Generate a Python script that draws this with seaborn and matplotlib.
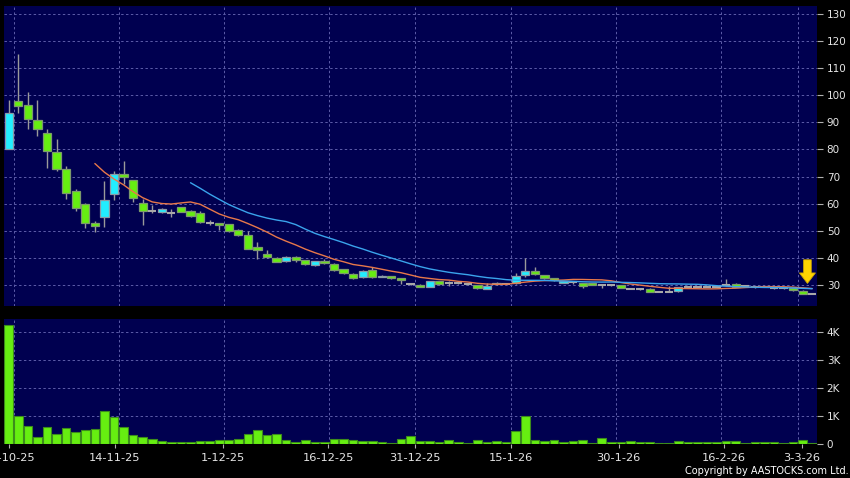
import numpy as np
import pandas as pd
import matplotlib
matplotlib.use("Agg")
import matplotlib.pyplot as plt
import seaborn as sns
from matplotlib.ticker import FixedLocator

# ---------------- data ----------------
opens = [80.3, 98.0, 96.5, 91.0, 86.2, 79.2, 72.9, 64.8, 60.0, 53.0,
         55.0, 63.5, 71.0, 68.8, 60.3, 57.3, 56.9, 56.7, 58.7, 57.3,
         56.5, 53.0, 52.8, 52.4, 50.2, 48.4, 44.2, 41.3, 40.1, 38.8,
         40.5, 39.1, 37.3, 38.8, 37.9, 35.8, 34.2, 32.9, 35.4, 32.9,
         33.3, 32.4, 30.4, 30.1, 29.3, 31.4, 30.7, 30.7, 30.2, 30.0,
         28.7, 30.2, 30.5, 30.9, 33.6, 35.3, 33.6, 32.4, 30.8, 31.1,
         30.7, 30.8, 29.9, 30.0, 30.0, 28.6, 28.4, 28.6, 27.5, 27.5,
         27.7, 29.2, 29.4, 29.3, 29.4, 30.0, 30.5, 29.7, 29.2, 29.4,
         28.9, 28.8, 28.9, 27.9, 26.7]
closes = [93.6, 96.1, 91.2, 87.7, 79.3, 72.9, 64.0, 58.5, 53.0, 51.9,
          61.5, 71.0, 69.8, 62.2, 57.4, 57.3, 58.0, 56.7, 57.0, 55.5,
          53.1, 53.0, 52.0, 49.8, 48.4, 43.3, 42.8, 40.2, 38.6, 40.4,
          39.4, 37.6, 38.8, 38.0, 35.7, 34.3, 32.7, 35.2, 32.9, 33.5,
          32.4, 31.9, 30.4, 29.4, 31.4, 30.3, 30.7, 30.7, 30.2, 28.8,
          29.7, 30.9, 30.5, 33.5, 35.3, 34.0, 32.5, 31.8, 31.3, 31.1,
          29.5, 30.0, 29.9, 30.0, 29.0, 28.6, 28.4, 27.5, 27.5, 27.5,
          29.1, 29.2, 29.4, 29.3, 29.4, 30.0, 29.4, 29.7, 29.2, 29.4,
          28.9, 28.8, 28.0, 26.8, 26.7]
highs = [98.1, 115.2, 101.1, 98.4, 87.7, 84.0, 74.0, 65.4, 60.2, 53.5,
         68.3, 71.9, 75.7, 68.8, 61.6, 59.6, 58.5, 57.9, 58.9, 57.8,
         57.3, 54.0, 53.0, 52.6, 50.6, 50.0, 45.9, 42.8, 40.3, 40.6,
         40.7, 39.3, 39.0, 39.5, 38.0, 36.0, 34.4, 35.4, 36.8, 33.6,
         33.5, 32.5, 30.7, 30.2, 31.6, 31.5, 31.5, 31.2, 30.7, 30.1,
         30.6, 31.0, 30.8, 34.6, 39.9, 36.7, 33.8, 32.6, 31.5, 31.3,
         30.8, 30.9, 30.1, 30.2, 30.1, 28.9, 28.6, 28.8, 27.7, 29.8,
         29.2, 29.4, 29.6, 29.5, 29.6, 32.3, 30.6, 29.9, 29.4, 29.6,
         29.1, 29.0, 29.0, 28.0, 26.8]
lows = [80.0, 93.4, 87.5, 85.0, 73.1, 72.0, 61.8, 57.3, 51.1, 49.6,
        51.5, 61.2, 67.4, 60.6, 52.0, 56.7, 56.5, 55.1, 56.8, 55.0,
        53.0, 52.0, 50.3, 49.6, 48.2, 43.1, 39.7, 40.0, 38.4, 38.5,
        38.6, 37.4, 37.1, 37.9, 35.1, 34.1, 32.2, 32.4, 32.7, 32.8,
        32.2, 30.3, 30.0, 29.2, 29.1, 30.1, 29.7, 30.2, 29.9, 28.6,
        28.5, 30.0, 30.2, 30.5, 33.0, 33.8, 32.3, 31.6, 30.6, 30.5,
        29.0, 29.9, 29.0, 29.6, 28.8, 28.4, 28.2, 27.3, 27.3, 27.3,
        27.5, 29.0, 29.2, 29.1, 29.2, 29.8, 29.2, 29.5, 29.0, 29.2,
        28.7, 28.6, 27.8, 26.6, 26.5]
volumes_k = [4.24, 1.0, 0.64, 0.24, 0.58, 0.36, 0.56, 0.40, 0.49, 0.52,
             1.17, 0.96, 0.61, 0.31, 0.24, 0.155, 0.08, 0.06, 0.05, 0.07,
             0.08, 0.08, 0.12, 0.12, 0.155, 0.33, 0.49, 0.30, 0.35, 0.13,
             0.07, 0.13, 0.06, 0.07, 0.155, 0.155, 0.13, 0.095, 0.11, 0.05,
             0.02, 0.155, 0.27, 0.11, 0.095, 0.05, 0.12, 0.06, 0.035, 0.13,
             0.06, 0.08, 0.06, 0.45, 0.99, 0.13, 0.095, 0.13, 0.07, 0.11,
             0.13, 0.035, 0.19, 0.05, 0.05, 0.095, 0.07, 0.05, 0.035, 0.02,
             0.095, 0.05, 0.05, 0.05, 0.05, 0.08, 0.08, 0.02, 0.07, 0.06,
             0.05, 0.02, 0.06, 0.12, 0.02]
date_labels = ['30-10-25', '14-11-25', '1-12-25', '16-12-25', '31-12-25',
               '15-1-26', '30-1-26', '16-2-26', '3-3-26']
price_ticks = [30, 40, 50, 60, 70, 80, 90, 100, 110, 120, 130]
vol_ticks = [0, 1, 2, 3, 4]
vol_tick_labels = ['0', '1K', '2K', '3K', '4K']

# ---------------- layout helpers (positions, not data) ----------------
label_pos = [0.05, 11.1, 22.4, 33.4, 42.5, 52.5, 63.75, 74.8, 82.9]
grid_pos = [0.5, 11.5, 22.5, 33.5, 42.5, 52.5, 63.5, 74.5, 82.5]

BG = '#000050'
GREEN = '#66ee11'
CYAN = '#22eeff'
GRIDC = '#5c5ca8'
TXT = '#e6e6e6'

sns.set_theme(style='dark')
plt.rcParams['font.family'] = ['DejaVu Sans']

df = pd.DataFrame({'i': np.arange(len(closes)), 'open': opens, 'close': closes,
                   'high': highs, 'low': lows, 'vol': volumes_k})
df['ma10'] = df['close'].rolling(10).mean()
df['ma20'] = df['close'].rolling(20).mean()

W, H = 850, 478
fig = plt.figure(figsize=(W / 100, H / 100), dpi=100, facecolor='black')
ax = fig.add_axes([4 / W, 1 - 306 / H, 813 / W, 300 / H])
axv = fig.add_axes([4 / W, 1 - 443.7 / H, 813 / W, 124.7 / H], sharex=ax)

for a in (ax, axv):
    a.set_facecolor(BG)
    for s in a.spines.values():
        s.set_visible(False)

# ---- candles ----
up = df['close'] > df['open']
dn = df['close'] < df['open']
fl = df['close'] == df['open']
body_bot = df[['open', 'close']].min(axis=1)
body_h = (df['close'] - df['open']).abs()

ax.vlines(df['i'], df['low'], df['high'], color='#9a9a9a', lw=1.0, zorder=2)
ax.bar(df['i'][up], body_h[up], bottom=body_bot[up], width=0.86, color=CYAN,
       edgecolor='#8a9aa6', linewidth=0.9, zorder=3)
ax.bar(df['i'][dn], body_h[dn], bottom=body_bot[dn], width=0.86, color=GREEN,
       edgecolor='#7c9a6c', linewidth=0.9, zorder=3)
ax.hlines(df['close'][fl], df['i'][fl] - 0.43, df['i'][fl] + 0.43,
          color='#a8a8a8', lw=1.5, zorder=3)

# ---- moving averages ----
sns.lineplot(data=df, x='i', y='ma10', ax=ax, color='#e8784a', lw=1.0, zorder=4)
sns.lineplot(data=df, x='i', y='ma20', ax=ax, color='#3aa4ec', lw=1.0, zorder=4)
ax.set_xlabel('')
ax.set_ylabel('')

# ---- arrow marker ----
ax.annotate('', xy=(83.5, 30.6), xytext=(83.5, 39.3),
            arrowprops=dict(arrowstyle='simple,head_length=0.75,head_width=1.15,tail_width=0.55',
                            mutation_scale=10, fc='#ffd400', ec='#d0a800', lw=0.6,
                            shrinkA=0, shrinkB=0),
            zorder=6)

# ---- volume ----
axv.bar(df['i'], df['vol'], width=0.9, color=GREEN, edgecolor='#3c8c1c',
        linewidth=0.8, zorder=3)

# ---- axes ----
ax.set_xlim(-0.5, 84.5)
ax.set_ylim(22.25, 132.95)
axv.set_ylim(0, 4.45)

for a in (ax, axv):
    a.yaxis.tick_right()
    a.xaxis.remove_overlapping_locs = False
    a.xaxis.set_minor_locator(FixedLocator(grid_pos))
    a.grid(True, which='minor', axis='x', color=GRIDC, ls=(0, (2.5, 2.5)), lw=0.7)
    a.grid(True, which='major', axis='y', color=GRIDC, ls=(0, (2.5, 2.5)), lw=0.7)
    a.grid(False, which='major', axis='x')
    a.tick_params(axis='y', which='major', right=True, left=False, length=4,
                  width=0.8, color='#b0b0b0', labelsize=7.5, labelcolor=TXT, pad=3)
    a.tick_params(axis='x', which='minor', length=0)

ax.set_yticks(price_ticks)
ax.set_yticklabels([str(t) for t in price_ticks])
axv.set_yticks(vol_ticks)
axv.set_yticklabels(vol_tick_labels)

axv.set_xticks(label_pos)
axv.set_xticklabels(date_labels)
ax.tick_params(axis='x', which='both', bottom=False, labelbottom=False)
axv.tick_params(axis='x', which='major', bottom=True, length=3, width=0.8,
                color='#b0b0b0', labelsize=8.2, labelcolor=TXT, pad=4)

fig.text(849 / W, 1 - 471 / H, 'Copyright by AASTOCKS.com Ltd.', ha='right',
         va='center', color='white', fontsize=7.0)

fig.savefig('out.png', dpi=100, facecolor='black')
